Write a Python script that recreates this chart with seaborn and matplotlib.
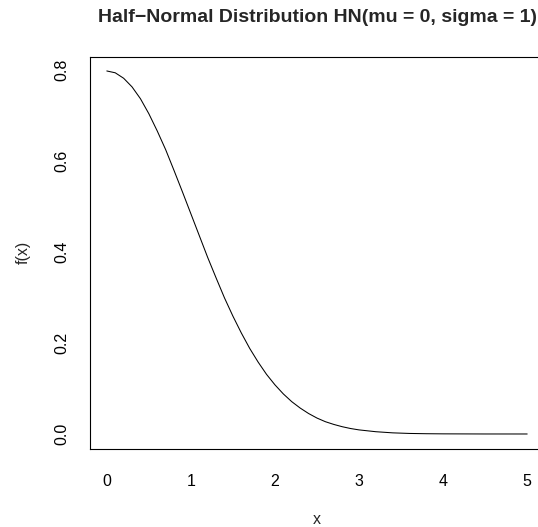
import pandas as pd
import seaborn as sns
import matplotlib.pyplot as plt

# density values
x_vals = [0.0, 0.1, 0.2, 0.3, 0.4, 0.5, 0.6, 0.7, 0.8, 0.9,
          1.0, 1.1, 1.2, 1.3, 1.4, 1.5, 1.6, 1.7, 1.8, 1.9,
          2.0, 2.1, 2.2, 2.3, 2.4, 2.5, 2.6, 2.7, 2.8, 2.9,
          3.0, 3.2, 3.4, 3.6, 3.8, 4.0, 4.5, 5.0]
fx_vals = [0.798, 0.794, 0.782, 0.763, 0.737, 0.704, 0.666, 0.625, 0.579, 0.532,
           0.484, 0.436, 0.388, 0.343, 0.299, 0.259, 0.222, 0.188, 0.158, 0.131,
           0.108, 0.088, 0.071, 0.057, 0.045, 0.035, 0.027, 0.021, 0.016, 0.012,
           0.009, 0.005, 0.0025, 0.0012, 0.0006, 0.0003, 0.00003, 0.0]
x_ticks = [0, 1, 2, 3, 4, 5]
y_ticks = [0.0, 0.2, 0.4, 0.6, 0.8]

df = pd.DataFrame({"x": x_vals, "f(x)": fx_vals})

sns.set_style("white")
plt.rcParams["font.family"] = ["Liberation Sans", "DejaVu Sans"]

fig = plt.figure(figsize=(5.38, 5.27), dpi=100)
ax = fig.add_axes([90 / 538, 1 - 448.5 / 527, 454 / 538, 392 / 527])

sns.lineplot(data=df, x="x", y="f(x)", color="black", linewidth=0.75, ax=ax)

ax.set_xlim(-0.2, 5.2)
ax.set_ylim(-0.0319, 0.8298)
ax.set_xticks(x_ticks)
ax.set_xticklabels([str(t) for t in x_ticks])
ax.set_yticks(y_ticks)
ax.set_yticklabels([f"{t:.1f}" for t in y_ticks])

for s in ax.spines.values():
    s.set_color("black")
    s.set_linewidth(0.8)

ax.tick_params(axis="both", direction="out", length=7.2, width=0.8, color="#444444",
               labelsize=11.5, colors="black")
ax.tick_params(axis="x", pad=11)
ax.tick_params(axis="y", pad=8, labelrotation=90)
for lbl in ax.get_yticklabels():
    lbl.set_va("center")

ax.set_xlabel("x", fontsize=11.5, labelpad=17)
ax.set_ylabel("f(x)", fontsize=11.5, labelpad=17)
ax.set_title("Half\u2212Normal Distribution HN(mu = 0, sigma = 1)",
             fontsize=14, fontweight="bold", pad=25)

fig.savefig("out.png", dpi=100)
